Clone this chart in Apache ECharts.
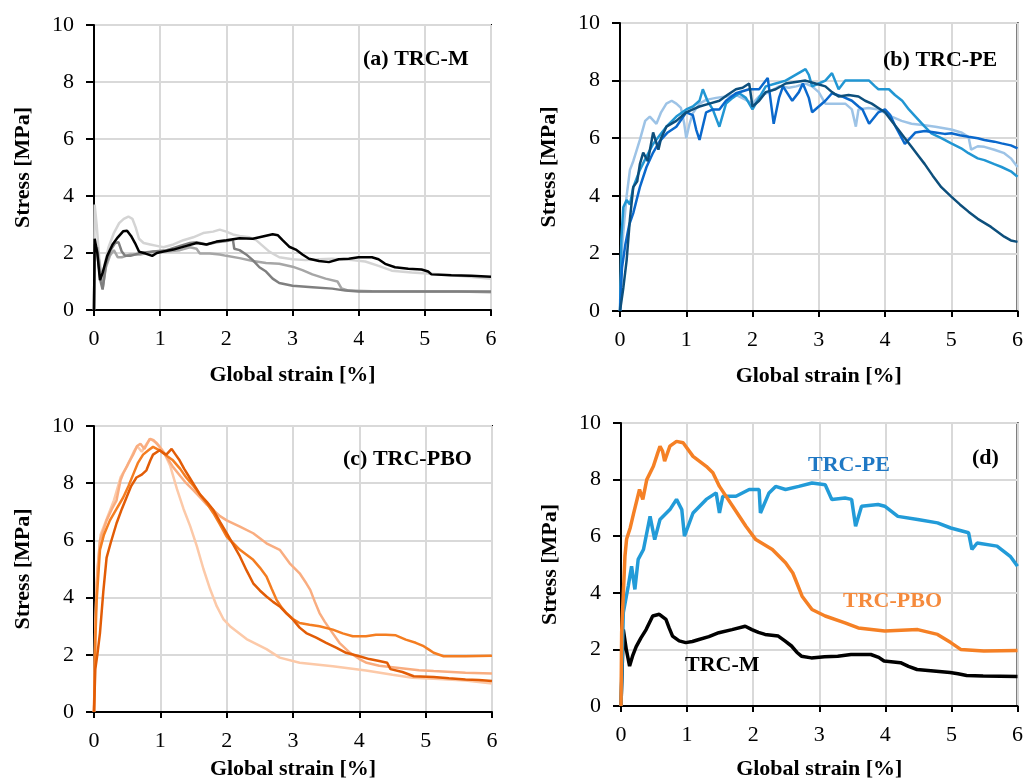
<!DOCTYPE html>
<html>
<head>
<meta charset="utf-8">
<script src="https://cdn.jsdelivr.net/npm/echarts@6/dist/echarts.min.js"></script>
<style>
  html, body { margin: 0; padding: 0; background: #fff; }
  #chart { width: 1026px; height: 781px; }
</style>
</head>
<body>
<div id="chart"></div>
<script>
// axis ticks
var strainTicks = [0, 1, 2, 3, 4, 5, 6];
var stressTicks = [0, 2, 4, 6, 8, 10];

// (a) TRC-M, [strain %, stress MPa]
var mLight = [[0,0],[0.01,3.7],[0.04,3.0],[0.08,1.8],[0.12,1.0],[0.16,1.6],[0.22,2.2],[0.3,2.7],[0.38,3.05],[0.45,3.2],[0.52,3.28],[0.58,3.2],[0.63,2.9],[0.68,2.5],[0.75,2.35],[0.85,2.3],[0.95,2.25],[1.05,2.2],[1.2,2.3],[1.35,2.45],[1.5,2.55],[1.65,2.7],[1.8,2.75],[1.9,2.82],[2.0,2.75],[2.1,2.65],[2.2,2.6],[2.35,2.55],[2.45,2.45],[2.55,2.25],[2.65,2.05],[2.8,1.85],[3.0,1.78],[3.2,1.75],[3.4,1.78],[3.6,1.8],[3.9,1.75],[4.1,1.7],[4.3,1.55],[4.5,1.38],[4.8,1.32],[5.1,1.27],[5.5,1.2],[6.0,1.1]];
var mMid = [[0,0],[0.01,2.0],[0.05,2.2],[0.09,1.5],[0.13,0.75],[0.18,1.5],[0.24,1.9],[0.3,2.1],[0.36,1.85],[0.42,1.85],[0.55,1.95],[0.7,1.95],[0.9,2.05],[1.1,2.05],[1.3,2.1],[1.45,2.2],[1.55,2.15],[1.6,1.98],[1.75,1.98],[1.9,1.95],[2.0,1.9],[2.2,1.82],[2.4,1.72],[2.6,1.65],[2.8,1.62],[3.0,1.52],[3.15,1.4],[3.3,1.25],[3.5,1.1],[3.68,1.0],[3.74,0.76],[3.85,0.68],[4.2,0.66],[5.0,0.65],[5.5,0.65],[6.0,0.62]];
var mDark = [[0,0],[0.01,2.3],[0.05,2.0],[0.1,1.0],[0.13,0.72],[0.18,1.6],[0.25,2.1],[0.32,2.35],[0.37,2.38],[0.42,2.05],[0.47,1.9],[0.55,1.9],[0.7,2.0],[0.9,2.05],[1.1,2.1],[1.3,2.25],[1.45,2.35],[1.55,2.38],[1.7,2.3],[1.85,2.38],[2.0,2.42],[2.1,2.46],[2.12,2.15],[2.2,2.1],[2.3,1.95],[2.4,1.75],[2.5,1.5],[2.6,1.35],[2.7,1.1],[2.8,0.95],[3.0,0.85],[3.3,0.8],[3.6,0.75],[3.8,0.68],[4.0,0.65],[5.0,0.65],[6.0,0.65]];
var mBlack = [[0,0],[0.01,2.5],[0.05,2.0],[0.09,1.05],[0.13,1.3],[0.2,1.9],[0.28,2.3],[0.36,2.55],[0.44,2.76],[0.5,2.78],[0.56,2.6],[0.62,2.35],[0.68,2.05],[0.78,1.98],[0.88,1.9],[0.95,2.0],[1.05,2.05],[1.2,2.12],[1.4,2.25],[1.55,2.35],[1.7,2.3],[1.85,2.4],[2.0,2.45],[2.2,2.52],[2.4,2.5],[2.55,2.58],[2.7,2.66],[2.78,2.62],[2.85,2.45],[2.95,2.22],[3.05,2.12],[3.15,1.95],[3.25,1.8],[3.4,1.72],[3.55,1.68],[3.7,1.78],[3.85,1.8],[4.0,1.85],[4.2,1.85],[4.3,1.78],[4.4,1.62],[4.55,1.5],[4.75,1.45],[4.95,1.42],[5.05,1.35],[5.1,1.25],[5.4,1.22],[5.7,1.2],[6.0,1.17]];

// (b) TRC-PE
var peLight = [[0,0],[0.03,2.2],[0.06,3.0],[0.1,4.0],[0.15,4.9],[0.2,5.2],[0.3,5.94],[0.38,6.6],[0.45,6.75],[0.55,6.5],[0.62,6.9],[0.7,7.2],[0.78,7.3],[0.85,7.2],[0.92,7.05],[0.97,6.5],[1.0,6.0],[1.05,6.5],[1.1,6.87],[1.2,7.2],[1.3,7.33],[1.45,7.4],[1.6,7.45],[1.75,7.5],[1.9,7.33],[2.0,7.2],[2.1,7.45],[2.25,7.6],[2.4,7.8],[2.55,7.75],[2.66,7.8],[2.8,7.9],[2.9,7.8],[3.0,7.6],[3.1,7.2],[3.25,7.2],[3.4,7.2],[3.5,7.0],[3.56,6.4],[3.6,7.0],[3.75,7.05],[3.9,7.0],[4.1,6.75],[4.25,6.6],[4.4,6.5],[4.6,6.45],[4.76,6.4],[5.0,6.3],[5.15,6.2],[5.26,6.05],[5.3,5.6],[5.4,5.72],[5.5,5.7],[5.65,5.6],[5.8,5.48],[5.9,5.3],[6.0,5.0]];
var peSky = [[0,0],[0.02,2.5],[0.05,3.6],[0.1,3.85],[0.15,3.7],[0.2,4.3],[0.3,4.9],[0.4,5.36],[0.5,5.8],[0.6,6.1],[0.7,6.4],[0.85,6.75],[1.0,7.0],[1.1,7.1],[1.2,7.3],[1.25,7.7],[1.32,7.3],[1.4,7.0],[1.5,6.4],[1.6,7.2],[1.7,7.4],[1.8,7.56],[1.9,7.4],[2.0,7.0],[2.1,7.4],[2.2,7.8],[2.35,7.9],[2.5,8.0],[2.65,8.2],[2.8,8.4],[2.85,8.2],[2.9,7.8],[3.0,7.9],[3.1,8.0],[3.2,8.26],[3.3,7.7],[3.4,8.0],[3.55,8.0],[3.76,8.0],[3.85,7.8],[3.9,7.7],[4.06,7.7],[4.15,7.5],[4.26,7.3],[4.36,7.0],[4.46,6.75],[4.6,6.4],[4.7,6.17],[4.85,6.0],[5.0,5.82],[5.15,5.65],[5.26,5.48],[5.4,5.3],[5.5,5.24],[5.65,5.1],[5.76,5.0],[5.9,4.85],[6.0,4.66]];
var peRoyal = [[0,0],[0.03,1.5],[0.08,2.3],[0.14,3.0],[0.2,3.4],[0.3,4.3],[0.4,5.0],[0.5,5.5],[0.6,5.9],[0.72,6.2],[0.85,6.4],[1.0,6.9],[1.1,6.8],[1.15,6.3],[1.2,5.94],[1.3,6.9],[1.4,7.0],[1.5,7.0],[1.6,7.3],[1.75,7.56],[1.95,7.7],[2.1,7.7],[2.23,8.09],[2.28,7.2],[2.32,6.5],[2.4,7.4],[2.46,7.8],[2.6,7.3],[2.7,7.6],[2.76,7.9],[2.85,7.4],[2.9,6.9],[3.0,7.1],[3.1,7.3],[3.2,7.56],[3.35,7.45],[3.5,7.3],[3.6,7.1],[3.66,7.0],[3.76,6.5],[3.9,6.9],[4.0,7.0],[4.08,6.8],[4.16,6.4],[4.3,5.8],[4.38,6.0],[4.46,6.2],[4.6,6.25],[4.76,6.2],[4.9,6.15],[5.0,6.17],[5.13,6.1],[5.26,6.05],[5.4,6.0],[5.5,5.94],[5.65,5.88],[5.76,5.82],[5.9,5.75],[6.0,5.65]];
var peNavy = [[0,0],[0.05,0.8],[0.1,1.76],[0.15,3.2],[0.2,4.3],[0.26,4.5],[0.3,5.1],[0.35,5.5],[0.42,5.2],[0.5,6.2],[0.58,5.6],[0.62,6.0],[0.7,6.4],[0.85,6.6],[1.0,6.9],[1.1,7.0],[1.2,7.1],[1.35,7.2],[1.5,7.3],[1.62,7.5],[1.75,7.7],[1.85,7.75],[1.95,7.9],[2.0,7.1],[2.1,7.3],[2.2,7.6],[2.35,7.7],[2.5,7.9],[2.65,7.95],[2.8,8.0],[2.95,7.9],[3.1,7.8],[3.2,7.6],[3.3,7.45],[3.45,7.5],[3.6,7.45],[3.7,7.3],[3.8,7.2],[3.9,7.05],[4.0,6.9],[4.1,6.6],[4.2,6.3],[4.3,6.0],[4.4,5.7],[4.5,5.4],[4.6,5.1],[4.72,4.7],[4.85,4.3],[5.0,3.97],[5.13,3.7],[5.26,3.45],[5.4,3.2],[5.6,2.92],[5.8,2.58],[5.9,2.45],[6.0,2.4]];

// (c) TRC-PBO
var pboPale = [[0,0],[0.02,3.0],[0.05,5.0],[0.1,6.2],[0.2,6.8],[0.3,7.4],[0.4,8.2],[0.5,8.6],[0.6,9.1],[0.65,9.3],[0.72,9.1],[0.8,9.4],[0.85,9.55],[0.95,9.4],[1.05,9.1],[1.15,8.6],[1.25,7.8],[1.35,7.1],[1.45,6.5],[1.55,5.8],[1.65,5.0],[1.75,4.3],[1.85,3.7],[1.95,3.25],[2.05,3.0],[2.3,2.55],[2.6,2.2],[2.8,1.9],[3.1,1.72],[3.6,1.6],[4.1,1.45],[4.5,1.3],[4.8,1.2],[5.2,1.15],[5.6,1.1],[6.0,1.0]];
var pboPeach = [[0,0],[0.02,3.0],[0.04,4.5],[0.09,6.0],[0.19,6.7],[0.27,7.1],[0.34,7.4],[0.4,8.1],[0.44,8.34],[0.52,8.7],[0.59,9.0],[0.65,9.3],[0.7,9.38],[0.76,9.2],[0.84,9.55],[0.9,9.5],[0.99,9.27],[1.1,8.9],[1.19,8.57],[1.3,8.25],[1.39,8.0],[1.5,7.75],[1.6,7.5],[1.7,7.25],[1.8,7.06],[1.9,6.85],[2.0,6.7],[2.2,6.48],[2.4,6.25],[2.6,5.9],[2.8,5.67],[2.95,5.2],[3.1,4.85],[3.2,4.5],[3.26,4.27],[3.33,3.85],[3.4,3.46],[3.48,3.15],[3.56,2.88],[3.7,2.42],[3.86,2.07],[4.0,1.85],[4.11,1.72],[4.3,1.62],[4.6,1.54],[4.9,1.46],[5.12,1.43],[5.6,1.37],[6.0,1.35]];
var pboOrange = [[0,0],[0.02,2.5],[0.04,3.9],[0.09,5.67],[0.15,6.2],[0.24,6.7],[0.34,7.1],[0.44,7.5],[0.52,7.9],[0.59,8.3],[0.66,8.7],[0.74,9.0],[0.82,9.15],[0.89,9.27],[0.99,9.15],[1.1,8.95],[1.19,8.8],[1.3,8.5],[1.39,8.2],[1.5,7.9],[1.6,7.6],[1.7,7.3],[1.8,6.95],[1.9,6.55],[2.0,6.13],[2.1,5.9],[2.2,5.67],[2.3,5.5],[2.4,5.32],[2.5,5.05],[2.6,4.74],[2.68,4.3],[2.75,3.93],[2.83,3.65],[2.9,3.46],[3.0,3.25],[3.1,3.11],[3.25,3.05],[3.4,3.0],[3.6,2.88],[3.75,2.75],[3.9,2.65],[4.1,2.65],[4.25,2.7],[4.4,2.7],[4.55,2.68],[4.7,2.53],[4.85,2.42],[4.97,2.3],[5.05,2.18],[5.12,2.07],[5.27,1.95],[5.6,1.95],[6.0,1.97]];
var pboDark = [[0,0],[0.02,1.5],[0.05,2.0],[0.09,2.76],[0.14,4.2],[0.19,5.4],[0.25,5.9],[0.34,6.6],[0.42,7.1],[0.49,7.5],[0.56,7.9],[0.64,8.2],[0.72,8.3],[0.79,8.45],[0.85,8.8],[0.89,9.0],[0.99,9.15],[1.05,9.05],[1.09,9.0],[1.17,9.2],[1.23,9.0],[1.29,8.8],[1.36,8.5],[1.44,8.2],[1.52,7.9],[1.6,7.6],[1.7,7.35],[1.8,7.06],[1.9,6.65],[2.0,6.25],[2.1,5.85],[2.2,5.44],[2.3,4.95],[2.4,4.5],[2.5,4.25],[2.6,4.04],[2.7,3.85],[2.8,3.69],[2.9,3.45],[3.0,3.23],[3.1,2.95],[3.2,2.76],[3.35,2.6],[3.5,2.42],[3.65,2.25],[3.8,2.07],[4.0,1.95],[4.15,1.85],[4.3,1.78],[4.42,1.72],[4.47,1.5],[4.65,1.4],[4.82,1.25],[5.12,1.22],[5.35,1.18],[5.6,1.14],[5.8,1.12],[6.0,1.08]];

// (d) representative curves
var repM = [[0,0],[0.035,2.7],[0.08,2.0],[0.13,1.41],[0.18,1.8],[0.23,2.1],[0.3,2.4],[0.38,2.7],[0.48,3.18],[0.58,3.24],[0.68,3.06],[0.73,2.75],[0.78,2.47],[0.88,2.3],[0.98,2.24],[1.08,2.28],[1.18,2.35],[1.33,2.45],[1.48,2.59],[1.68,2.7],[1.88,2.82],[1.98,2.7],[2.08,2.6],[2.18,2.53],[2.38,2.47],[2.48,2.3],[2.58,2.12],[2.66,1.9],[2.73,1.76],[2.88,1.7],[3.08,1.74],[3.28,1.76],[3.48,1.82],[3.78,1.82],[3.9,1.72],[3.98,1.59],[4.23,1.53],[4.35,1.4],[4.48,1.29],[4.73,1.24],[4.98,1.18],[5.1,1.14],[5.23,1.08],[5.48,1.06],[6.0,1.04]];
var repPBO = [[0,0],[0.01,2.6],[0.06,5.3],[0.085,5.9],[0.14,6.3],[0.19,6.8],[0.28,7.65],[0.33,7.3],[0.39,8.0],[0.49,8.47],[0.55,8.9],[0.59,9.18],[0.63,9.0],[0.66,8.65],[0.74,9.18],[0.84,9.35],[0.94,9.3],[1.09,8.82],[1.29,8.47],[1.39,8.24],[1.49,7.76],[1.69,7.06],[1.89,6.35],[2.04,5.88],[2.29,5.53],[2.49,5.06],[2.6,4.7],[2.64,4.47],[2.74,3.88],[2.89,3.41],[3.09,3.18],[3.39,2.94],[3.59,2.76],[3.99,2.65],[4.49,2.7],[4.79,2.53],[4.99,2.24],[5.14,2.0],[5.49,1.94],[6.0,1.96]];
var repPE = [[0,0],[0.035,3.3],[0.11,4.24],[0.16,4.94],[0.21,4.12],[0.26,5.18],[0.34,5.53],[0.44,6.7],[0.51,5.88],[0.59,6.59],[0.74,6.94],[0.84,7.3],[0.92,6.94],[0.96,6.0],[1.09,6.82],[1.29,7.3],[1.44,7.53],[1.49,6.82],[1.54,7.41],[1.74,7.41],[1.94,7.65],[2.09,7.65],[2.11,6.82],[2.24,7.53],[2.34,7.76],[2.49,7.65],[2.69,7.76],[2.89,7.88],[3.09,7.82],[3.19,7.3],[3.39,7.35],[3.49,7.3],[3.55,6.35],[3.64,7.06],[3.89,7.12],[3.99,7.06],[4.19,6.7],[4.49,6.59],[4.79,6.47],[4.99,6.29],[5.26,6.12],[5.31,5.53],[5.39,5.76],[5.69,5.65],[5.89,5.29],[6.0,4.94]];

var FONT = "Liberation Serif";

function makeX(idx, gap) {
  return {
    type: "value", gridIndex: idx, min: 0, max: 6, interval: 1,
    name: "Global strain [%]", nameLocation: "middle", nameGap: gap,
    nameTextStyle: { fontFamily: FONT, fontWeight: "bold", fontSize: 22, color: "#000" },
    axisLine: { show: true, onZero: false, lineStyle: { color: "#000", width: 2 } },
    axisTick: { show: true, length: 6, lineStyle: { color: "#000", width: 2 } },
    axisLabel: { fontFamily: FONT, fontSize: 22, color: "#000", margin: 18,
      formatter: function (v) { return strainTicks.indexOf(v) >= 0 ? String(v) : ""; } },
    splitLine: { show: true, lineStyle: { color: "#d9d9d9", width: 2 } }
  };
}
function makeY(idx) {
  return {
    type: "value", gridIndex: idx, min: 0, max: 10, interval: 2,
    name: "Stress [MPa]", nameLocation: "middle", nameGap: 60,
    nameTextStyle: { fontFamily: FONT, fontWeight: "bold", fontSize: 22, color: "#000" },
    axisLine: { show: true, onZero: false, lineStyle: { color: "#000", width: 2 } },
    axisTick: { show: true, length: 8, lineStyle: { color: "#000", width: 2 } },
    axisLabel: { fontFamily: FONT, fontSize: 22, color: "#000", margin: 20,
      formatter: function (v) { return stressTicks.indexOf(v) >= 0 ? String(v) : ""; } },
    splitLine: { show: true, lineStyle: { color: "#d9d9d9", width: 2 } }
  };
}
function line(idx, data, color, width) {
  return {
    type: "line", xAxisIndex: idx, yAxisIndex: idx, data: data,
    showSymbol: false, symbol: "none", silent: true, animation: false,
    lineStyle: { color: color, width: width || 2.5 }
  };
}
function grid(left, top, width, height) {
  return { left: left, top: top, width: width, height: height, show: true,
    borderColor: "#000", borderWidth: 2, backgroundColor: "transparent" };
}

var rich = {
  n: { fontFamily: FONT, fontSize: 22, color: "#000" },
  b: { fontFamily: FONT, fontSize: 22, fontWeight: "bold", color: "#000" }
};
function panelTitle(letter, label, left, top) {
  return { text: "{n|(}{b|" + letter + "}{n|)}{b| " + label + "}", left: left, top: top,
    padding: 0, textStyle: { rich: rich } };
}
function plainTitle(text, left, top, color) {
  return { text: text, left: left, top: top, padding: 0,
    textStyle: { fontFamily: FONT, fontSize: 22, fontWeight: "bold", color: color } };
}

var chart = echarts.init(document.getElementById("chart"));
chart.setOption({
  animation: false,
  backgroundColor: "#fff",
  title: [
    panelTitle("a", "TRC-M", 363, 48),
    panelTitle("b", "TRC-PE", 883, 49),
    panelTitle("c", "TRC-PBO", 343, 448),
    { text: "{n|(}{b|d}{n|)}", left: 972, top: 447, padding: 0, textStyle: { rich: rich } },
    plainTitle("TRC-PE", 808, 454, "#1f78c4"),
    plainTitle("TRC-PBO", 843, 590, "#f58a3c"),
    plainTitle("TRC-M", 685, 654, "#000")
  ],
  grid: [
    grid(94, 25, 397, 285),
    grid(620, 23, 399, 288),
    grid(94, 426, 398, 287),
    grid(621, 423, 400, 284)
  ],
  xAxis: [makeX(0, 54), makeX(1, 54), makeX(2, 46), makeX(3, 52)],
  yAxis: [makeY(0), makeY(1), makeY(2), makeY(3)],
  series: [
    line(0, mLight, "#d4d4d4"),
    line(0, mMid, "#a6a6a6"),
    line(0, mDark, "#7f7f7f"),
    line(0, mBlack, "#000000"),
    line(1, peLight, "#9dc3e6"),
    line(1, peSky, "#2196d3"),
    line(1, peRoyal, "#0a68cc"),
    line(1, peNavy, "#0d4f7c"),
    line(2, pboPale, "#fcc9a8"),
    line(2, pboPeach, "#f9ad80"),
    line(2, pboOrange, "#f47d21"),
    line(2, pboDark, "#e25c06"),
    line(3, repM, "#000000", 3.5),
    line(3, repPE, "#229bd8", 3.5),
    line(3, repPBO, "#f58025", 3.5)
  ]
});
</script>
</body>
</html>
